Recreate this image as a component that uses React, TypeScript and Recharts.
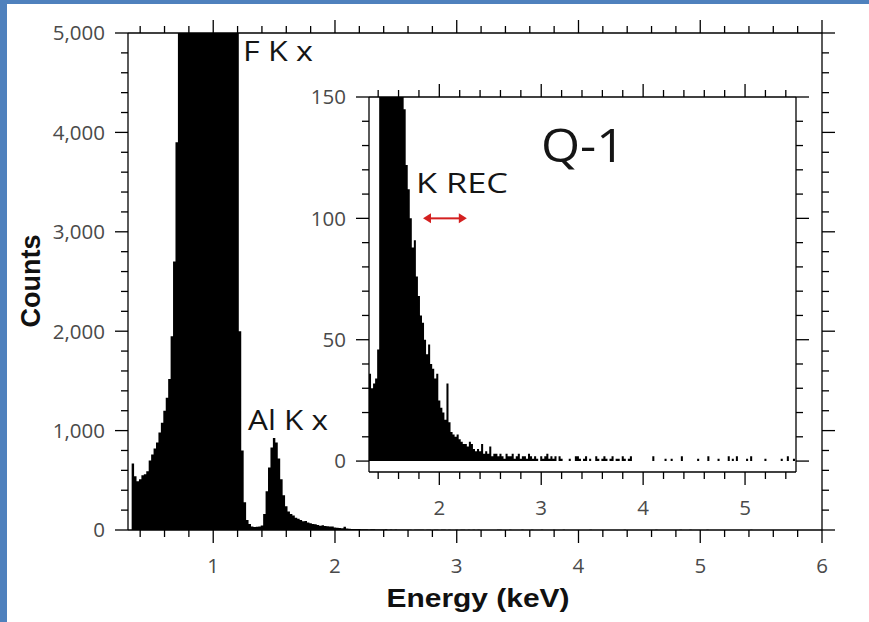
import React from 'react';
import { ComposedChart, Area, XAxis, YAxis, ReferenceLine } from 'recharts';

// spectrum binned in 20 eV channels, first channel starts at 0.33 keV
const BIN_START = 0.33;
const BIN_WIDTH = 0.02;

// F K x peak (top is cut off at 5,000 in the plot)
const fPeakCounts = [
  670, 540, 490, 510, 550, 560, 590, 700, 760, 820,
  880, 980, 1080, 1200, 1330, 1520, 1950, 2700, 3900, 5400,
  7200, 9500, 12000, 14500, 17000, 19200, 21000, 22400, 23300, 23800,
  23700, 23200, 22300, 21000, 19400, 17600, 15600, 13500, 11400, 9500,
  7800, 6600, 5700, 5100, 2000, 800, 280, 100, 60, 36,
];

// Al K x peak and its tail (1.33 - 2.53 keV)
const alPeakCounts = [
  30, 32, 34, 46, 160, 390, 630, 830, 925, 880,
  720, 510, 350, 240, 185, 160, 145, 122, 112, 100,
  88, 91, 76, 68, 60, 57, 50, 44, 48, 40,
  38, 34, 36, 25, 22, 20, 17, 32, 16, 12,
  11, 10, 11, 9, 8, 7, 7, 6, 8, 7,
  5, 4, 5, 4, 7, 3, 4, 3, 6, 2,
  3,
];

// 2.55 - 3.89 keV
const tailCounts = [
  3, 2, 3, 2, 1, 3, 2, 2, 3, 1,
  2, 3, 1, 2, 2, 1, 3, 2, 1, 2,
  1, 0, 2, 1, 2, 3, 1, 2, 1, 2,
  0, 2, 1, 0, 0, 0, 1, 0, 0, 2,
  2, 1, 0, 1, 2, 0, 1, 0, 0, 2,
  1, 0, 1, 2, 1, 0, 1, 2, 0, 1,
  1, 0, 2, 1, 0, 1, 2, 0,
];

// 3.91 - 5.99 keV
const highEnergyCounts = [
  0, 0, 0, 0, 0, 0, 0, 0, 0, 2,
  0, 0, 0, 0, 0, 1, 0, 0, 1, 0,
  0, 0, 0, 2, 0, 0, 0, 0, 0, 0,
  0, 1, 0, 0, 0, 0, 2, 0, 0, 0,
  0, 1, 0, 0, 0, 0, 2, 0, 1, 0,
  2, 0, 0, 0, 0, 1, 0, 2, 0, 0,
  0, 0, 0, 0, 1, 0, 0, 0, 0, 0,
  0, 0, 1, 0, 0, 2, 0, 0, 1, 0,
  0, 0, 0, 0, 1, 0, 0, 0, 0, 0,
  1, 0, 0, 0, 0, 0, 0, 1, 0, 0,
  0, 0, 0, 0, 0,
];

// K REC window marker (keV) and the height it is drawn at in the inset
const kRecWindow = [1.84, 2.27];
const kRecLevel = 100;

const range = (start: number, stop: number, step: number) =>
  Array.from({ length: Math.round((stop - start) / step) + 1 }, (_, i) => +(start + i * step).toFixed(2));

const mainXTicks = range(0.4, 6, 0.2);
const mainYTicks = range(0, 5000, 200);
const insetXTicks = range(1.4, 5.4, 0.2);
const insetYTicks = range(0, 150, 10);

const counts = [...fPeakCounts, ...alPeakCounts, ...tailCounts, ...highEnergyCounts];
const spectrum = counts.map((c, i) => ({ energy: +(BIN_START + i * BIN_WIDTH).toFixed(2), counts: c }));
spectrum.push({ energy: +(BIN_START + counts.length * BIN_WIDTH).toFixed(2), counts: counts[counts.length - 1] });
const insetData = spectrum.filter(d => d.energy >= 1.29);

const W = 869;
const H = 622;

const axisStyle = { stroke: '#000', strokeWidth: 1.3 };
const tickText = { fontFamily: '"Open Sans", "Noto Sans", sans-serif', fontSize: 20.5, fill: '#4a4a4a' };

type Side = 'bottom' | 'top' | 'left' | 'right';

function makeTick(side: Side, majorStep: number, showLabel: boolean, format = (v: number) => String(v)) {
  return (props: any) => {
    const { x, y, payload } = props;
    const v = payload.value as number;
    const major = Math.abs(v / majorStep - Math.round(v / majorStep)) < 1e-6;
    const len = major ? 13 : 7;
    const dx = side === 'left' ? -len : side === 'right' ? len : 0;
    const dy = side === 'bottom' ? len : side === 'top' ? -len : 0;
    return (
      <g>
        <line x1={x} y1={y} x2={x + dx} y2={y + dy} stroke="#000" strokeWidth={1.3} />
        {showLabel && major && side === 'bottom' && (
          <text x={x} y={y + len + 15} dy="0.71em" textAnchor="middle" {...tickText}>{format(v)}</text>
        )}
        {showLabel && major && side === 'left' && (
          <text x={x - len - 10} y={y} dy="0.36em" textAnchor="end" {...tickText}>{format(v)}</text>
        )}
      </g>
    );
  };
}

const commaFormat = (v: number) => v.toLocaleString('en-US');

const DoubleArrow = (props: any) => {
  const { x1, y1, x2 } = props;
  const red = '#d42020';
  return (
    <g>
      <line x1={x1 + 6} y1={y1} x2={x2 - 6} y2={y1} stroke={red} strokeWidth={2} />
      <polygon points={`${x1},${y1} ${x1 + 8},${y1 - 5} ${x1 + 8},${y1 + 5}`} fill={red} />
      <polygon points={`${x2},${y1} ${x2 - 8},${y1 - 5} ${x2 - 8},${y1 + 5}`} fill={red} />
    </g>
  );
};

export default function App() {
  const annot = { fontFamily: '"Open Sans", "Noto Sans", sans-serif', fill: '#151515' };
  const title = { fontFamily: '"Liberation Sans", Arial, sans-serif', fontWeight: 700, fill: '#111' };
  return (
    <div style={{ position: 'absolute', left: 0, top: 0, width: W, height: H, background: '#4f81bd', overflow: 'hidden' }}>
      <div style={{ position: 'absolute', left: 7, top: 4, right: 0, bottom: 0, background: '#fff' }} />

      <div style={{ position: 'absolute', left: 0, top: 0 }}>
        <ComposedChart width={W} height={H} data={spectrum} margin={{ top: 32, right: 46, bottom: 91, left: 127 }}>
          <XAxis xAxisId="b" type="number" dataKey="energy" domain={[0.3, 6]} allowDataOverflow ticks={mainXTicks} interval={0}
            height={1} tickSize={0} tickMargin={0} tickLine={false} axisLine={axisStyle} tick={makeTick('bottom', 1, true)} />
          <XAxis xAxisId="t" orientation="top" type="number" dataKey="energy" domain={[0.3, 6]} allowDataOverflow ticks={mainXTicks} interval={0}
            height={1} tickSize={0} tickMargin={0} tickLine={false} axisLine={axisStyle} tick={makeTick('top', 1, false)} />
          <YAxis yAxisId="l" type="number" domain={[0, 5000]} allowDataOverflow ticks={mainYTicks} interval={0}
            width={1} tickSize={0} tickMargin={0} tickLine={false} axisLine={axisStyle} tick={makeTick('left', 1000, true, commaFormat)} />
          <YAxis yAxisId="r" orientation="right" type="number" domain={[0, 5000]} allowDataOverflow ticks={mainYTicks} interval={0}
            width={1} tickSize={0} tickMargin={0} tickLine={false} axisLine={axisStyle} tick={makeTick('right', 1000, false)} />
          <Area xAxisId="b" yAxisId="l" type="stepAfter" dataKey="counts" fill="#000" fillOpacity={1} stroke="none"
            dot={false} activeDot={false} isAnimationActive={false} />
        </ComposedChart>
      </div>

      <div style={{ position: 'absolute', left: 290, top: 80 }}>
        <ComposedChart width={520} height={442} data={insetData} margin={{ top: 16, right: 13, bottom: 49, left: 78 }}>
          <XAxis xAxisId="b" type="number" dataKey="energy" domain={[1.31, 5.5]} allowDataOverflow ticks={insetXTicks} interval={0}
            height={1} tickSize={0} tickMargin={0} tickLine={false} axisLine={axisStyle} tick={makeTick('bottom', 1, true)} />
          <XAxis xAxisId="t" orientation="top" type="number" dataKey="energy" domain={[1.31, 5.5]} allowDataOverflow ticks={insetXTicks} interval={0}
            height={1} tickSize={0} tickMargin={0} tickLine={false} axisLine={axisStyle} tick={makeTick('top', 1, false)} />
          <YAxis yAxisId="l" type="number" domain={[-4.5, 150]} allowDataOverflow ticks={insetYTicks} interval={0}
            width={1} tickSize={0} tickMargin={0} tickLine={false} axisLine={axisStyle} tick={makeTick('left', 50, true)} />
          <YAxis yAxisId="r" orientation="right" type="number" domain={[-4.5, 150]} allowDataOverflow ticks={insetYTicks} interval={0}
            width={1} tickSize={0} tickMargin={0} tickLine={false} axisLine={axisStyle} tick={makeTick('right', 50, false)} />
          <Area xAxisId="b" yAxisId="l" type="stepAfter" dataKey="counts" fill="#000" fillOpacity={1} stroke="none"
            dot={false} activeDot={false} isAnimationActive={false} />
          <ReferenceLine xAxisId="b" yAxisId="l"
            segment={[{ x: kRecWindow[0], y: kRecLevel }, { x: kRecWindow[1], y: kRecLevel }]}
            shape={DoubleArrow} />
        </ComposedChart>
      </div>

      <svg width={W} height={H} style={{ position: 'absolute', left: 0, top: 0, pointerEvents: 'none' }}>
        <text x={243} y={61} fontSize={28} textLength={70} lengthAdjust="spacingAndGlyphs" {...annot}>F K x</text>
        <text x={248} y={430} fontSize={28} textLength={80} lengthAdjust="spacingAndGlyphs" {...annot}>Al K x</text>
        <text x={541} y={162} fontSize={46} textLength={84} lengthAdjust="spacingAndGlyphs" {...annot}>Q-1</text>
        <text x={416} y={193} fontSize={27} textLength={92} lengthAdjust="spacingAndGlyphs" {...annot}>K REC</text>
        <text x={478} y={607} fontSize={26} textAnchor="middle" textLength={183} lengthAdjust="spacingAndGlyphs" {...title}>Energy (keV)</text>
        <text x={40} y={281} fontSize={27} textAnchor="middle" transform="rotate(-90 40 281)" {...title}>Counts</text>
      </svg>
    </div>
  );
}
